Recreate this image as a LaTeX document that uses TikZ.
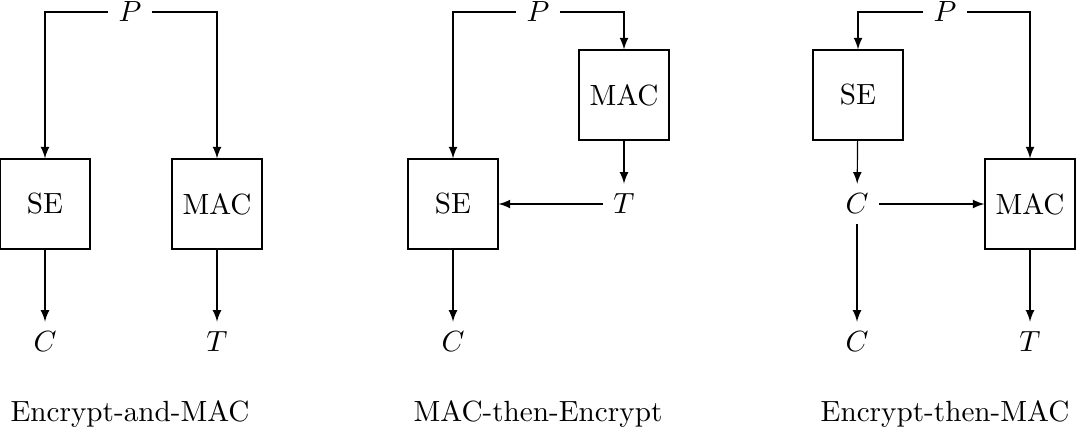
\documentclass[tikz,border=0pt]{standalone}
\usepackage{tikz}
\usetikzlibrary{positioning, arrows}
\usepackage{amsmath}

\tikzset{
    block/.style={draw, minimum size=30.8pt, inner sep=0pt},
    msg/.style={inner sep=3.33pt}
}

\begin{document}
\begin{tikzpicture}[x=0.3425pt, y=-0.3425pt, >=latex]
    \useasboundingbox (0,0) rectangle (1076,433);

    % Encrypt-and-MAC
    \node[msg] (p1) at (130,12) {$P$};
    \node[block] (se1) at (45,204) {SE};
    \node[block] (mac1) at (217,204) {MAC};
    \node[msg] (c1) at (45,342) {$C$};
    \node[msg] (t1) at (217,342) {$T$};
    \node (cap1) at (130,414) {Encrypt-and-MAC};

    \draw[->] (p1) -| (se1);
    \draw[->] (p1) -| (mac1);
    \draw[->] (se1) -- (c1);
    \draw[->] (mac1) -- (t1);

    % MAC-then-Encrypt
    \node[msg] (p2) at (538,12) {$P$};
    \node[block] (mac2) at (624,95) {MAC};
    \node[block] (se2) at (453,204) {SE};
    \node[msg] (t2) at (624,204) {$T$};
    \node[msg] (c2) at (453,342) {$C$};
    \node (cap2) at (538,414) {MAC-then-Encrypt};

    \draw[->] (p2) -| (se2);
    \draw[->] (p2) -| (mac2);
    \draw[->] (mac2) -- (t2);
    \draw[->] (t2) -- (se2);
    \draw[->] (se2) -- (c2);

    % Encrypt-then-MAC
    \node[msg] (p3) at (945,12) {$P$};
    \node[block] (se3) at (858,95) {SE};
    \node[msg] (c3) at (857,204) {$C$};
    \node[block] (mac3) at (1030,204) {MAC};
    \node[msg] (c4) at (857,342) {$C$};
    \node[msg] (t3) at (1030,342) {$T$};
    \node (cap3) at (945,414) {Encrypt-then-MAC};

    \draw[->] (p3) -| (se3);
    \draw[->] (p3) -| (mac3);
    \draw[->] (se3) -- (c3);
    \draw[->] (c3) -- (mac3);
    \draw[->] (c3) -- (c4);
    \draw[->] (mac3) -- (t3);
\end{tikzpicture}
\end{document}
